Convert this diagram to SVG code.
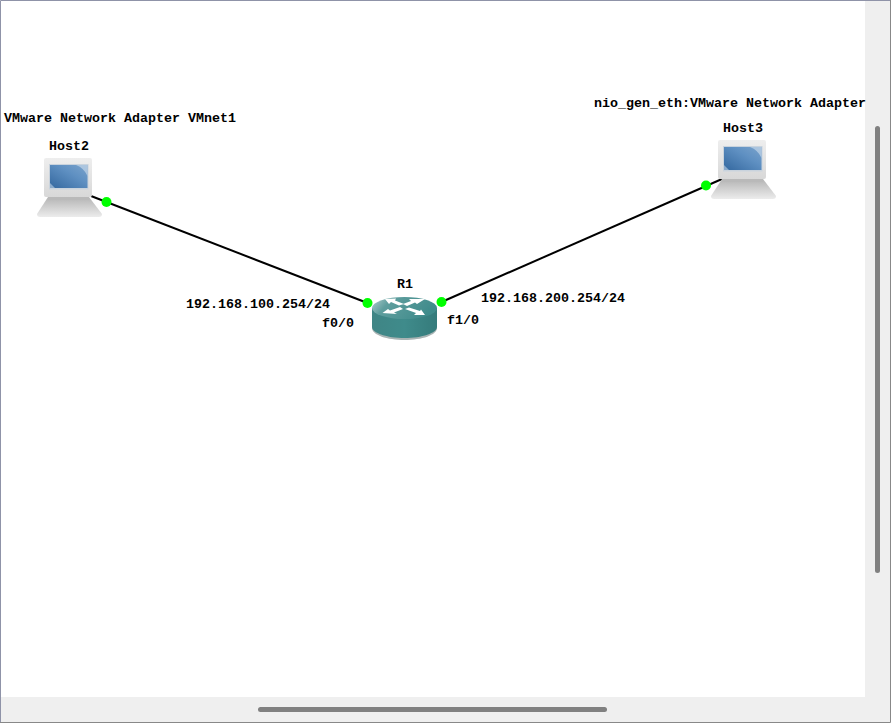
<svg xmlns="http://www.w3.org/2000/svg" xmlns:xlink="http://www.w3.org/1999/xlink" width="891" height="723" viewBox="0 0 891 723">
<style>
text{font-family:"Liberation Mono","DejaVu Sans Mono",monospace;font-weight:700;font-size:13.33px;fill:#000}
.link{stroke:#000;stroke-width:2;fill:none}
.dot{fill:#00ff00}
.thumb{fill:#808080}
</style>
<defs>
<linearGradient id="bodyG" x1="0" y1="0" x2="0" y2="1"><stop offset="0" stop-color="#eeeeee"/><stop offset="1" stop-color="#d8d8d8"/></linearGradient>
<linearGradient id="screenG" x1="0" y1="1" x2="1" y2="0"><stop offset="0" stop-color="#34689f"/><stop offset="0.6" stop-color="#5f90c2"/><stop offset="1" stop-color="#7aa3cc"/></linearGradient>
<linearGradient id="kbG" x1="0" y1="0" x2="0" y2="1"><stop offset="0" stop-color="#b4b4b4"/><stop offset="1" stop-color="#ececec"/></linearGradient>
<linearGradient id="rtrSide" x1="0" y1="0" x2="1" y2="0"><stop offset="0" stop-color="#3f8585"/><stop offset="0.5" stop-color="#3f8b8b"/><stop offset="1" stop-color="#357b7b"/></linearGradient>
<linearGradient id="rtrTop" x1="0" y1="0" x2="1" y2="0.3"><stop offset="0" stop-color="#b5d0d0"/><stop offset="0.3" stop-color="#5f9e9e"/><stop offset="1" stop-color="#3f8b8b"/></linearGradient>
<g id="laptop">
<path d="M48 197H89L102 214Q102 217 99 217H40Q37 217 37 214Z" fill="url(#kbG)"/>
<rect x="44" y="158" width="48" height="39" rx="2" fill="url(#bodyG)"/>
<rect x="48" y="197" width="41" height="3" fill="#b9b9b9"/>
<rect x="49" y="164" width="39.500" height="25.500" fill="#c9d3dd"/>
<rect x="50" y="165" width="37.500" height="23" fill="url(#screenG)"/>
<path d="M76 165H87.500V176Q84 168 76 165Z" fill="#c3d6e8" opacity="0.7"/>
<path d="M50 183L55 188H50Z" fill="#c3d6e8" opacity="0.6"/>
</g>
</defs>
<rect width="891" height="723" fill="#ffffff"/>
<rect x="865" y="0" width="26" height="723" fill="#efefef"/>
<rect x="0" y="697" width="891" height="26" fill="#efefef"/>
<g id="connectors">
<line class="link" x1="91" y1="196" x2="367.500" y2="303"/>
<line class="link" x1="722" y1="179" x2="441.500" y2="302"/>
</g>
<g id="Host2">
<use href="#laptop" xlink:href="#laptop"/>
<text x="49" y="150">Host2</text>
<text x="4" y="122">VMware Network Adapter VMnet1</text>
</g>
<g id="Host3">
<use href="#laptop" xlink:href="#laptop" transform="translate(674 -18)"/>
<text x="723" y="132">Host3</text>
<text x="594" y="107">nio_gen_eth:VMware Network Adapter</text>
</g>
<g id="R1">
<path d="M372 309V328C372 335 387 340 404.500 340S437 335 437 328V309Z" fill="#a9b4b4"/>
<path d="M372 308V327C372 333 387 338 404.500 338S437 333 437 327V308Z" fill="url(#rtrSide)"/>
<ellipse cx="404.500" cy="308" rx="32.500" ry="11" fill="url(#rtrTop)"/>
<g fill="#ffffff">
<path d="M385 299L396 298.500L395 300.500L404 304L399 305.500L391 302L389 304Z"/>
<path d="M425 299L417 304L415 302.500L407 306L403 304L411 301L409 299Z"/>
<path d="M382.500 313L388 309L390 310.500L400 307L403 309L394 312.500L397 314Z"/>
<path d="M425 315L414 315L416 313L405 309L409 307.500L420 311L421 309.500Z"/>
</g>
<text x="397" y="288">R1</text>
</g>
<g id="labels">
<text x="186" y="308">192.168.100.254/24</text>
<text x="322" y="327">f0/0</text>
<text x="447" y="324">f1/0</text>
<text x="481" y="302">192.168.200.254/24</text>
</g>
<g id="ports">
<circle class="dot" cx="106.500" cy="202" r="5"/>
<circle class="dot" cx="367.500" cy="303" r="5"/>
<circle class="dot" cx="441.500" cy="302" r="5"/>
<circle class="dot" cx="706" cy="185.500" r="5"/>
</g>
<g id="scrollbars">
<rect class="thumb" x="875" y="126" width="5" height="447" rx="2.500"/>
<rect class="thumb" x="258" y="707" width="349" height="5" rx="2.500"/>
</g>
<path d="M0.500 723V0.500H891" fill="none" stroke="#8f93a8" stroke-width="1"/>
<path d="M890.500 0V722.500H0" fill="none" stroke="#888888" stroke-width="1"/>
</svg>
